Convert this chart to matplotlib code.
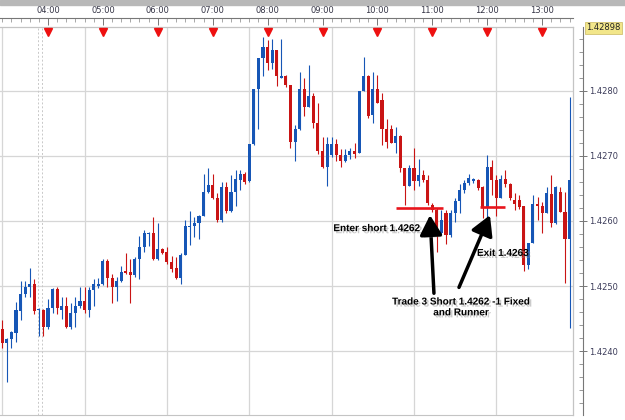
import matplotlib
matplotlib.use("Agg")
import matplotlib.pyplot as plt
import matplotlib.patheffects as pe
import matplotlib.transforms as mtransforms
from matplotlib.patches import Rectangle
from matplotlib.ticker import MultipleLocator, FuncFormatter
import numpy as np

# 5 minute bars, first bar at 03:10
start_hour = 3 + 10 / 60
bar_minutes = 5

opens = [
    1.42434, 1.42412, 1.42418, 1.42428, 1.42462, 1.42488, 1.42498, 1.42503, 1.42463, 1.42463,
    1.42437, 1.42466, 1.42495, 1.42464, 1.42469, 1.42437, 1.42458, 1.42469, 1.42477, 1.42463,
    1.42494, 1.42500, 1.42503, 1.42538, 1.42512, 1.42498, 1.42508, 1.42523, 1.42522, 1.42517,
    1.42542, 1.42560, 1.42580, 1.42582, 1.42542, 1.42557, 1.42552, 1.42537, 1.42528, 1.42512,
    1.42548, 1.42591, 1.42592, 1.42597, 1.42608, 1.42645, 1.42655, 1.42635, 1.42602, 1.42652,
    1.42615, 1.42645, 1.42663, 1.42672, 1.42662, 1.42718, 1.42802, 1.42851, 1.42868, 1.42842,
    1.42862, 1.42820, 1.42822, 1.42809, 1.42722, 1.42742, 1.42802, 1.42775, 1.42792, 1.42751,
    1.42708, 1.42683, 1.42702, 1.42718, 1.42702, 1.42692, 1.42702, 1.42708, 1.42705, 1.42800,
    1.42822, 1.42763, 1.42802, 1.42786, 1.42742, 1.42742, 1.42720, 1.42731, 1.42682, 1.42654,
    1.42682, 1.42662, 1.42671, 1.42663, 1.42625, 1.42617, 1.42582, 1.42612, 1.42578, 1.42612,
    1.42631, 1.42648, 1.42658, 1.42662, 1.42663, 1.42652, 1.42622, 1.42683, 1.42663, 1.42635,
    1.42665, 1.42657, 1.42632, 1.42632, 1.42623, 1.42532, 1.42566, 1.42626, 1.42623, 1.42612,
    1.42642, 1.42597, 1.42645, 1.42614, 1.42572,
]
highs = [
    1.42448, 1.42420, 1.42431, 1.42475, 1.42508, 1.42508, 1.42528, 1.42511, 1.42466, 1.42465,
    1.42480, 1.42497, 1.42498, 1.42483, 1.42483, 1.42474, 1.42483, 1.42498, 1.42498, 1.42498,
    1.42511, 1.42512, 1.42542, 1.42542, 1.42518, 1.42514, 1.42531, 1.42551, 1.42542, 1.42545,
    1.42577, 1.42586, 1.42583, 1.42606, 1.42597, 1.42558, 1.42560, 1.42546, 1.42545, 1.42551,
    1.42602, 1.42615, 1.42606, 1.42609, 1.42672, 1.42682, 1.42672, 1.42643, 1.42660, 1.42660,
    1.42671, 1.42678, 1.42678, 1.42675, 1.42718, 1.42802, 1.42851, 1.42882, 1.42878, 1.42880,
    1.42863, 1.42880, 1.42825, 1.42809, 1.42748, 1.42829, 1.42820, 1.42840, 1.42797, 1.42782,
    1.42729, 1.42729, 1.42729, 1.42726, 1.42711, 1.42711, 1.42712, 1.42720, 1.42800, 1.42852,
    1.42824, 1.42829, 1.42825, 1.42797, 1.42757, 1.42748, 1.42745, 1.42732, 1.42682, 1.42686,
    1.42712, 1.42695, 1.42678, 1.42671, 1.42628, 1.42620, 1.42617, 1.42617, 1.42617, 1.42635,
    1.42657, 1.42663, 1.42672, 1.42666, 1.42665, 1.42654, 1.42702, 1.42694, 1.42671, 1.42671,
    1.42678, 1.42658, 1.42643, 1.42640, 1.42623, 1.42566, 1.42640, 1.42637, 1.42629, 1.42652,
    1.42671, 1.42654, 1.42652, 1.42645, 1.42791,
]
lows = [
    1.42405, 1.42352, 1.42405, 1.42414, 1.42448, 1.42483, 1.42483, 1.42457, 1.42423, 1.42423,
    1.42434, 1.42458, 1.42457, 1.42449, 1.42435, 1.42434, 1.42437, 1.42467, 1.42458, 1.42452,
    1.42469, 1.42497, 1.42501, 1.42498, 1.42474, 1.42477, 1.42506, 1.42519, 1.42474, 1.42514,
    1.42511, 1.42552, 1.42562, 1.42540, 1.42540, 1.42550, 1.42534, 1.42522, 1.42511, 1.42503,
    1.42548, 1.42563, 1.42575, 1.42572, 1.42608, 1.42643, 1.42634, 1.42598, 1.42598, 1.42612,
    1.42614, 1.42623, 1.42648, 1.42657, 1.42660, 1.42717, 1.42742, 1.42822, 1.42832, 1.42834,
    1.42808, 1.42820, 1.42806, 1.42712, 1.42692, 1.42740, 1.42762, 1.42775, 1.42743, 1.42703,
    1.42682, 1.42654, 1.42698, 1.42692, 1.42683, 1.42691, 1.42695, 1.42697, 1.42704, 1.42799,
    1.42758, 1.42751, 1.42782, 1.42717, 1.42712, 1.42720, 1.42705, 1.42675, 1.42625, 1.42654,
    1.42648, 1.42654, 1.42660, 1.42625, 1.42614, 1.42552, 1.42578, 1.42565, 1.42575, 1.42598,
    1.42612, 1.42643, 1.42655, 1.42658, 1.42648, 1.42605, 1.42602, 1.42640, 1.42608, 1.42635,
    1.42652, 1.42632, 1.42617, 1.42618, 1.42523, 1.42526, 1.42566, 1.42602, 1.42582, 1.42612,
    1.42591, 1.42595, 1.42614, 1.42505, 1.42435,
]
closes = [
    1.42412, 1.42418, 1.42429, 1.42463, 1.42488, 1.42498, 1.42503, 1.42462, 1.42465, 1.42437,
    1.42466, 1.42495, 1.42466, 1.42469, 1.42437, 1.42458, 1.42469, 1.42477, 1.42463, 1.42494,
    1.42503, 1.42503, 1.42538, 1.42512, 1.42498, 1.42508, 1.42522, 1.42520, 1.42517, 1.42542,
    1.42560, 1.42582, 1.42582, 1.42542, 1.42557, 1.42551, 1.42537, 1.42526, 1.42512, 1.42548,
    1.42592, 1.42592, 1.42597, 1.42608, 1.42645, 1.42655, 1.42635, 1.42602, 1.42652, 1.42615,
    1.42645, 1.42665, 1.42672, 1.42660, 1.42718, 1.42802, 1.42851, 1.42868, 1.42842, 1.42862,
    1.42822, 1.42822, 1.42809, 1.42722, 1.42742, 1.42802, 1.42775, 1.42792, 1.42751, 1.42708,
    1.42683, 1.42718, 1.42718, 1.42702, 1.42692, 1.42702, 1.42708, 1.42703, 1.42800, 1.42822,
    1.42762, 1.42802, 1.42782, 1.42742, 1.42722, 1.42720, 1.42731, 1.42682, 1.42654, 1.42682,
    1.42662, 1.42671, 1.42663, 1.42628, 1.42617, 1.42582, 1.42602, 1.42578, 1.42612, 1.42631,
    1.42648, 1.42658, 1.42666, 1.42663, 1.42651, 1.42622, 1.42683, 1.42663, 1.42635, 1.42665,
    1.42657, 1.42635, 1.42626, 1.42622, 1.42532, 1.42566, 1.42626, 1.42623, 1.42612, 1.42643,
    1.42597, 1.42652, 1.42614, 1.42572, 1.42663,
]

hour_marks = [4, 5, 6, 7, 8, 9, 10, 11, 12, 13]
price_ticks = [1.4240, 1.4250, 1.4260, 1.4270, 1.4280]
top_price = 1.42898

entry_price = 1.4262
exit_mark = 1.42622
entry_span = (10 + 20 / 60, 11 + 12 / 60)
exit_span = (11 + 52 / 60, 12 + 19 / 60)

BLUE = "#1656b6"
RED = "#c91414"
GRID = "#d6d6d6"

opens = np.array(opens)
highs = np.array(highs)
lows = np.array(lows)
closes = np.array(closes)
times = start_hour + np.arange(len(opens)) * bar_minutes / 60

fig = plt.figure(figsize=(6.25, 4.2), dpi=100)
fig.patches.append(Rectangle((0, 1 - 5 / 420), 1, 5 / 420, transform=fig.transFigure,
                             color="#b8b8b8", zorder=0))
ax = fig.add_axes([0, 5 / 420, 573 / 625, 388 / 420])

ax.set_xlim(4 - 48 / 54.9, 4 + 525 / 54.9)
ax.set_ylim(1.42302, top_price)

# grid: horizontal at price levels, vertical every 90 min from first bar
for p in price_ticks:
    ax.axhline(p, color=GRID, lw=0.9, zorder=1)
for k in range(7):
    ax.axvline(start_hour + k * 1.5, color=GRID, lw=0.9, zorder=1)
for h in (3 + 49 / 60, 3 + 53 / 60):
    ax.axvline(h, color="#c8c8c8", lw=0.7, ls=(0, (2, 2)), zorder=1)

# candles
up = closes >= opens
colors = np.where(up, BLUE, RED)
ax.vlines(times, lows, highs, colors=colors, lw=0.8, zorder=3)
body_low = np.minimum(opens, closes)
body_h = np.maximum(np.abs(closes - opens), 0.00002)
ax.bar(times, body_h, bottom=body_low, width=0.056, color=colors, lw=0, zorder=4)

# hour markers
trans = mtransforms.blended_transform_factory(ax.transData, ax.transAxes)
ax.plot(hour_marks, [0.988] * len(hour_marks), "v", color="#ee1010", ms=6,
        transform=trans, clip_on=False, zorder=6)

# top time axis
ax.xaxis.tick_top()
ax.spines["top"].set_position(("outward", 6.5))
ax.spines["top"].set_color("#777777")
ax.xaxis.set_major_locator(plt.FixedLocator(hour_marks))
ax.xaxis.set_minor_locator(MultipleLocator(10 / 60))
ax.xaxis.set_major_formatter(FuncFormatter(lambda v, pos: "%02d:00" % round(v)))
ax.tick_params(axis="x", which="major", direction="in", length=5, width=0.7,
               color="#777777", labelsize=6, labelcolor="#333344", pad=2)
ax.tick_params(axis="x", which="minor", direction="in", length=3, width=0.6, color="#999999")

# right price axis
ax.yaxis.tick_right()
ax.spines["right"].set_position(("outward", 7.2))
ax.spines["right"].set_color("#777777")
ax.set_yticks(price_ticks)
ax.yaxis.set_minor_locator(MultipleLocator(0.0002))
ax.yaxis.set_major_formatter(FuncFormatter(lambda v, pos: "%.4f" % v))
ax.tick_params(axis="y", which="major", direction="inout", length=6, width=0.7,
               color="#777777", labelsize=6, labelcolor="#3c3c5a", pad=1.5)
ax.tick_params(axis="y", which="minor", direction="in", length=3, width=0.6, color="#888888")

ax.spines["left"].set_visible(False)
ax.spines["bottom"].set_color("#c4c4c4")
ax.plot([0, 1], [1, 1], transform=ax.transAxes, color="#c4c4c4", lw=0.9, clip_on=False)
ax.plot([1, 1], [0, 1], transform=ax.transAxes, color="#c4c4c4", lw=0.9, clip_on=False)

fig.text(586 / 625, 1 - 28 / 420, "%.5f" % top_price, ha="left", va="center", fontsize=6,
         color="#222222",
         bbox=dict(boxstyle="square,pad=0.15", fc="#f2e68a", ec="#c9b860", lw=0.5))

# trade annotations
ax.hlines(entry_price, *entry_span, color="#e8141c", lw=1.9, zorder=5)
ax.hlines(exit_mark, *exit_span, color="#e8141c", lw=1.9, zorder=5)

shadow = [pe.withSimplePatchShadow(offset=(1.5, -1.5), shadow_rgbFace="0.55", alpha=0.45)]
txt = dict(fontsize=7.2, fontweight="bold", family=["Liberation Sans", "DejaVu Sans"],
           color="black", zorder=7, path_effects=shadow)

ax.text(10.776, 1.42589, "Enter short 1.4262", ha="right", va="center", **txt)
ax.text(11.814, 1.42551, "Exit 1.4263", ha="left", va="center", **txt)
ax.text(11.523, 1.42468, "Trade 3 Short 1.4262 -1 Fixed\nand Runner", ha="center",
        va="center", multialignment="center", linespacing=1.1, **txt)

arrow = dict(arrowstyle="-|>,head_length=0.8,head_width=0.45", lw=2.5, color="black",
             shrinkA=0, shrinkB=0, mutation_scale=15, path_effects=shadow)
ax.annotate("", xy=(10.958, 1.42609), xytext=(11.03, 1.42489), arrowprops=arrow, zorder=7)
ax.annotate("", xy=(12.05, 1.42609), xytext=(11.486, 1.42498), arrowprops=arrow, zorder=7)

fig.savefig("out.png", dpi=100)
